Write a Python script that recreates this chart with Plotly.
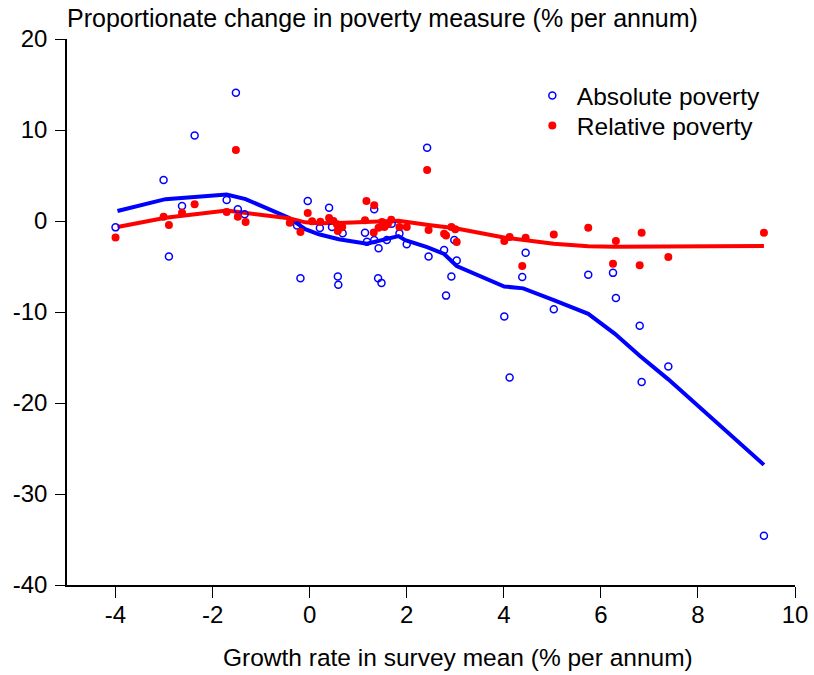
import plotly.graph_objects as go

# Scatter data: growth rate in survey mean (x) vs proportionate change in poverty (y)
abs_x = [-4.0, -3.01, -2.90, -2.63, -2.37, -1.71, -1.52, -1.48, -1.34, -0.26, -0.19, -0.04,
         0.21, 0.40, 0.46, 0.58, 0.59, 0.68, 1.14, 1.18, 1.33, 1.33, 1.41, 1.42, 1.48, 1.59,
         1.69, 1.85, 2.0, 2.42, 2.45, 2.77, 2.81, 2.92, 2.98, 3.03, 4.01, 4.12, 4.38, 4.45,
         5.03, 5.74, 6.25, 6.31, 6.80, 6.84, 7.39, 9.36]
abs_y = [-0.7, 4.5, -3.9, 1.65, 9.4, 2.3, 14.1, 1.3, 0.74, -0.5, -6.3, 2.2,
         -0.77, 1.46, -0.66, -6.1, -7.0, -1.35, -1.3, -2.27, 1.28, -2.1, -6.3, -3.0, -6.8, -2.1,
         -0.3, -1.36, -2.56, 8.05, -3.9, -3.2, -8.2, -6.1, -2.1, -4.35, -10.5, -17.2, -6.15, -3.5,
         -9.7, -5.9, -5.7, -8.45, -11.5, -17.7, -16.0, -34.6]

rel_x = [-4.0, -3.01, -2.90, -2.63, -2.37, -1.71, -1.52, -1.48, -1.32, -0.41, -0.19, -0.04,
         0.05, 0.22, 0.40, 0.49, 0.56, 0.58, 0.63, 0.67, 1.14, 1.17, 1.32, 1.33, 1.42, 1.49,
         1.54, 1.61, 1.68, 1.85, 2.0, 2.42, 2.45, 2.77, 2.81, 2.92, 3.0, 3.03, 4.01, 4.12,
         4.38, 4.45, 5.03, 5.74, 6.25, 6.31, 6.80, 6.84, 7.39, 9.36]
rel_y = [-1.8, 0.47, -0.44, 0.9, 1.83, 1.0, 7.8, 0.47, -0.1, -0.18, -1.2, 0.88,
         -0.04, -0.07, 0.33, 0.0, -0.37, -1.1, -0.73, -0.66, 0.07, 2.2, -1.25, 1.72, -0.73, -0.1,
         -0.66, -0.37, 0.15, -0.66, -0.66, 5.6, -1.0, -1.4, -1.58, -0.66, -0.9, -2.3, -2.2, -1.76,
         -4.95, -1.83, -1.47, -0.73, -4.7, -2.2, -4.87, -1.28, -3.96, -1.28]

# Fitted (nonparametric) curves
abs_fit_x = [-3.96, -2.97, -1.71, -1.32, -0.43, -0.09, 0.19, 0.6, 1.18, 1.69, 1.83, 1.97,
             2.42, 2.77, 3.03, 4.01, 4.40, 5.03, 5.74, 6.29, 6.80, 7.39, 9.36]
abs_fit_y = [1.1, 2.4, 2.9, 2.4, 0.36, -0.9, -1.46, -2.0, -2.5, -1.83, -1.65, -2.1,
             -2.86, -3.62, -4.95, -7.2, -7.4, -8.7, -10.2, -12.4, -14.8, -17.4, -26.8]
rel_fit_x = [-3.96, -2.97, -1.71, -1.32, -0.43, -0.09, 0.19, 0.73, 1.42, 1.83, 2.45, 3.0,
             4.03, 5.03, 5.74, 6.29, 9.36]
rel_fit_y = [-0.66, 0.36, 1.15, 0.9, 0.3, -0.15, -0.25, -0.18, -0.1, 0.03, -0.44, -0.8,
             -1.83, -2.5, -2.78, -2.82, -2.75]

x_ticks = [-4, -2, 0, 2, 4, 6, 8, 10]
x_ticktext = ["-4", "-2", "0", "2", "4", "6", "8", "10"]
y_ticks = [20, 10, 0, -10, -20, -30, -40]
y_ticktext = ["20", "10", "0", "-10", "-20", "-30", "-40"]

FONT = "Liberation Sans, Arial, sans-serif"
BLUE = "#0000FF"
RED = "#FF0000"

fig = go.Figure()
fig.add_trace(go.Scatter(x=abs_fit_x, y=abs_fit_y, mode="lines",
                         line=dict(color=BLUE, width=4), showlegend=False, hoverinfo="skip"))
fig.add_trace(go.Scatter(x=rel_fit_x, y=rel_fit_y, mode="lines",
                         line=dict(color=RED, width=4), showlegend=False, hoverinfo="skip"))
fig.add_trace(go.Scatter(x=abs_x, y=abs_y, mode="markers", name="Absolute poverty",
                         legend="legend",
                         marker=dict(symbol="circle-open", size=7, color=BLUE,
                                     line=dict(color=BLUE, width=1.5))))
fig.add_trace(go.Scatter(x=rel_x, y=rel_y, mode="markers", name="Relative poverty",
                         legend="legend2",
                         marker=dict(symbol="circle", size=8, color=RED)))

legend_common = dict(x=0.633, xanchor="left", yanchor="top",
                     bgcolor="rgba(0,0,0,0)", font=dict(size=24.5), itemwidth=39)

fig.update_layout(
    width=814, height=675,
    margin=dict(l=67, r=19, t=39, b=90, autoexpand=False),
    paper_bgcolor="white", plot_bgcolor="white",
    font=dict(family=FONT, size=24.5, color="black"),
    legend=dict(y=0.9377, **legend_common),
    legend2=dict(y=0.8828, **legend_common),
    xaxis=dict(range=[-5, 10], tickvals=x_ticks, ticktext=x_ticktext,
               ticks="outside", ticklen=11, ticklabelstandoff=-4,
               tickwidth=1, tickcolor="black", showline=True, linecolor="black",
               linewidth=1.5, showgrid=False, zeroline=False, automargin=False,
               tickfont=dict(size=24)),
    yaxis=dict(range=[-40, 20], tickvals=y_ticks, ticktext=y_ticktext,
               ticks="outside", ticklen=10, ticklabelstandoff=3,
               tickwidth=1, tickcolor="black", showline=True, linecolor="black",
               linewidth=1.5, showgrid=False, zeroline=False, automargin=False,
               tickfont=dict(size=24)),
    annotations=[
        dict(text="Proportionate change in poverty measure (% per annum)",
             xref="paper", yref="paper", x=0, y=1, yshift=21, xshift=-2,
             xanchor="left", yanchor="middle", showarrow=False,
             font=dict(size=25)),
        dict(text="Growth rate in survey mean (% per annum)",
             xref="paper", yref="paper", x=0.537, y=0, yshift=-72,
             xanchor="center", yanchor="middle", showarrow=False,
             font=dict(size=24.5)),
    ],
)

fig.write_html("out.html", config={"displayModeBar": False},
               post_script="document.body.style.margin='0';document.body.style.overflow='hidden';")
